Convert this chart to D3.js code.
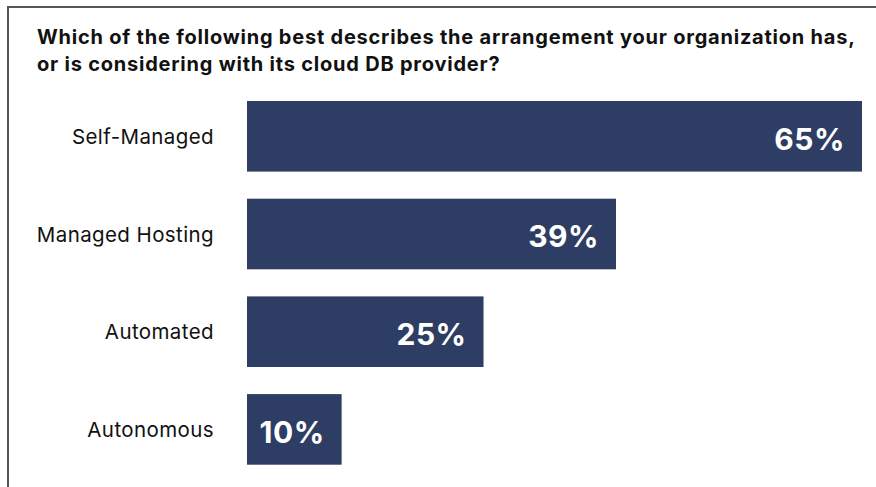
<!DOCTYPE html>
<html>
<head>
<meta charset="utf-8">
<script src="https://cdn.jsdelivr.net/npm/d3@7"></script>
<style>
  html, body { margin: 0; padding: 0; background: #ffffff; }
  svg { display: block; }
  text { font-family: Inter, "Noto Sans", sans-serif; }
</style>
</head>
<body>
<svg id="chart" width="876" height="487"></svg>
<script>
// Survey responses: share of organisations per cloud DB arrangement
const categories = ["Self-Managed", "Managed Hosting", "Automated", "Autonomous"];
const values = [65, 39, 25, 10];
const titleLines = [
  "Which of the following best describes the arrangement your organization has,",
  "or is considering with its cloud DB provider?"
];

const W = 876, H = 487;
const svg = d3.select("#chart");

// Frame around the panel (open on the right and bottom edges of the view)
svg.append("path")
  .attr("d", `M8,${H + 2} L8,7 L${W + 2},7`)
  .attr("fill", "none")
  .attr("stroke", "#555555")
  .attr("stroke-width", 2);

// Title
const title = svg.append("text")
  .attr("x", 37)
  .attr("y", 44)
  .attr("font-size", 20)
  .attr("font-weight", 700)
  .attr("letter-spacing", 0.78)
  .attr("fill", "#111111");
titleLines.forEach((line, i) => {
  title.append("tspan").attr("x", 37).attr("dy", i === 0 ? 0 : 27).text(line);
});

// Scales: 97.7px step, ~70.6px bars
const x = d3.scaleLinear().domain([0, 65]).range([247, 862]);
const y = d3.scaleBand()
  .domain(categories)
  .range([101, 101 + 3 * 97.7 + 70.6])
  .paddingInner((97.7 - 70.6) / 97.7)
  .paddingOuter(0);
const bandH = y.bandwidth();

const g = svg.append("g");

// Bars
g.selectAll("rect.bar")
  .data(categories)
  .join("rect")
  .attr("class", "bar")
  .attr("x", x(0))
  .attr("y", d => y(d))
  .attr("width", (d, i) => x(values[i]) - x(0))
  .attr("height", bandH)
  .attr("fill", "#2e3d63");

// Category labels
g.selectAll("text.cat")
  .data(categories)
  .join("text")
  .attr("class", "cat")
  .attr("x", 214)
  .attr("y", d => y(d) + bandH / 2 + 7.7)
  .attr("text-anchor", "end")
  .attr("font-size", 20.5)
  .attr("letter-spacing", 0.4)
  .attr("fill", "#111111")
  .text(d => d);

// Value labels inside bar ends
g.selectAll("text.val")
  .data(categories)
  .join("text")
  .attr("class", "val")
  .attr("x", (d, i) => x(values[i]) - 17)
  .attr("y", d => y(d) + bandH / 2 + 13.4)
  .attr("text-anchor", "end")
  .attr("font-size", 30)
  .attr("font-weight", 700)
  .attr("letter-spacing", 0.5)
  .attr("fill", "#ffffff")
  .text((d, i) => values[i] + "%");
</script>
</body>
</html>
